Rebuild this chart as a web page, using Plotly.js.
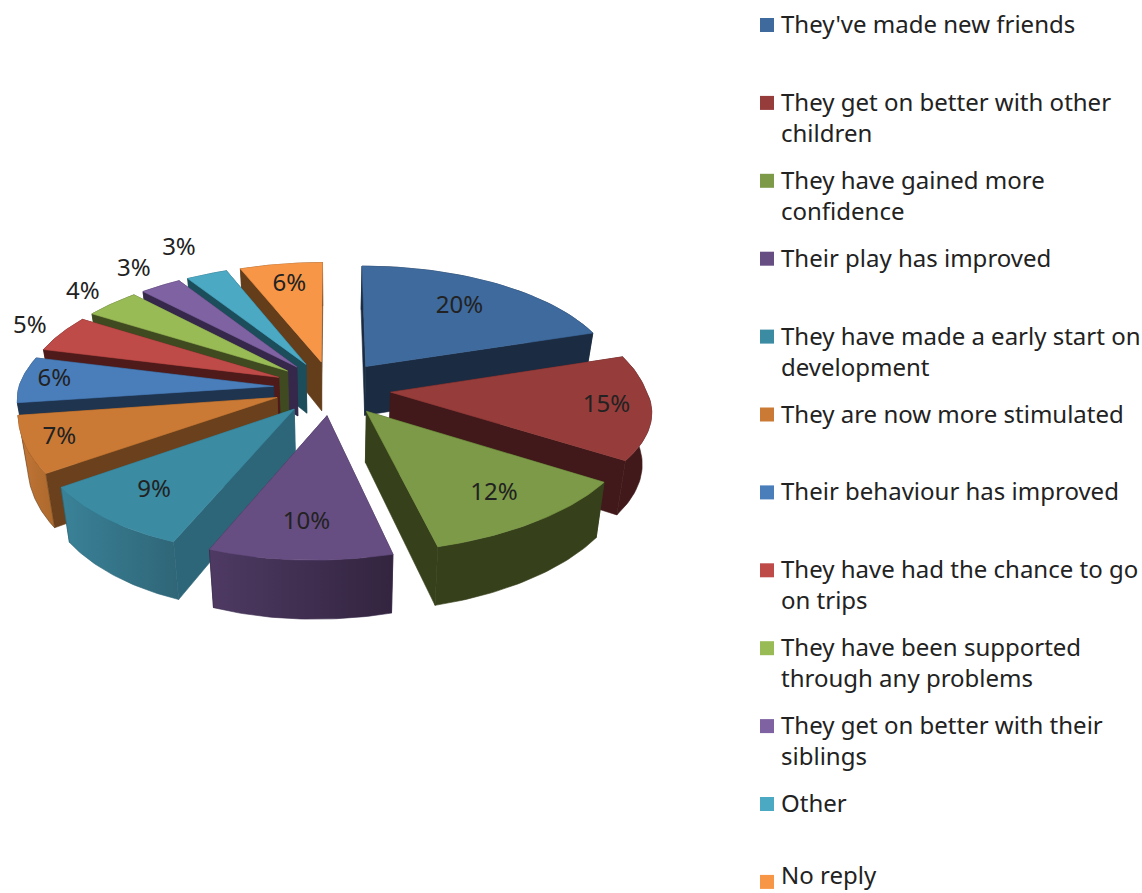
<!DOCTYPE html>
<html><head><meta charset="utf-8">
<script src="https://cdn.plot.ly/plotly-3.0.1.min.js"></script>
<style>html,body{margin:0;padding:0;background:#fff}#chart{width:1142px;height:893px}</style>
</head><body><div id="chart"></div>
<script>
const categories = ["They've made new friends","They get on better with other<br>children","They have gained more<br>confidence","Their play has improved","They have made a early start on<br>development","They are now more stimulated","Their behaviour has improved","They have had the chance to go<br>on trips","They have been supported<br>through any problems","They get on better with their<br>siblings","Other","No reply"];
const values = [20,15,12,10,9,7,6,5,4,3,3,6];
const topColors = ['#3E6A9D','#963C3A','#7C9A47','#674E82','#3B8BA3','#CB7A35','#4A7EBB','#BE4B48','#98BB56','#7F62A2','#4BA9C4','#F79646'];
const sideColors = ['#1B2B42','#41191A','#36401B','#3A2C4E','#2D6678','#6A411C','#1F344F','#4F1B1A','#3F4A20','#35284A','#1C4D5A','#643D1B'];
const wallLeft = ['#1B2B42','#41191A','#36401B','#4E3A63','#3A8298','#C27636','#1F344F','#4F1B1A','#3F4A20','#35284A','#1C4D5A','#643D1B'];
const wallRight = ['#1B2B42','#41191A','#36401B','#33243F','#2F6577','#AC682C','#1F344F','#4F1B1A','#3F4A20','#35284A','#1C4D5A','#643D1B'];
const labelRadius = [0.93,1.06,1.0,1.0,1.0,1.1,1.1,1.38,1.41,1.45,1.55,1.0];

const cx=332, cy=388, rx=255, ry=118, persp=0.125, explode=0.23, depth=50;
function proj(X,Y,z){
  const s=1/(1-persp*Y);
  const shrink=1-0.03*z;
  const front=Math.max(0,Y);
  return [cx+X*rx*s*shrink+11*front, cy+Y*ry*s+z*depth*s-11*X*front];
}
const total=values.reduce((a,b)=>a+b,0);
let cum=0;
const slices=values.map((v,i)=>{
  const a0=cum/total*2*Math.PI; cum+=v; const a1=cum/total*2*Math.PI; const mid=(a0+a1)/2;
  return {i,a0,a1,mid,ox:explode*Math.sin(mid),oy:-explode*Math.cos(mid)};
});
function rim(s,a){return [s.ox+Math.sin(a),s.oy-Math.cos(a)];}
function poly(pts,name,fill,grad){
  const x=pts.map(p=>p[0]),y=pts.map(p=>p[1]);x.push(x[0]);y.push(y[0]);
  const t={type:'scatter',mode:'lines',x,y,fill:'toself',fillcolor:fill,line:{width:0.6,color:fill},hoverinfo:'skip',showlegend:false,name};
  if(grad) t.fillgradient={type:'horizontal',colorscale:[[0,grad[0]],[1,grad[1]]]};
  return t;
}
function wallFace(p,q){const a=proj(p[0],p[1],0),b=proj(q[0],q[1],0),c=proj(q[0],q[1],1),d=proj(p[0],p[1],1);return [a,b,c,d];}
const traces=[];
const order=slices.slice().sort((a,b)=>(a.oy+ -Math.cos(a.mid)*0.5)-(b.oy+ -Math.cos(b.mid)*0.5));
order.forEach(s=>{
  const n=40, arc=[];
  for(let k=0;k<=n;k++) arc.push(rim(s,s.a0+(s.a1-s.a0)*k/n));
  const apex=[s.ox,s.oy];
  const faces=[
    {pts:wallFace(apex,arc[0]),y:arc[0][1]+apex[1],fill:sideColors[s.i]},
    {pts:wallFace(apex,arc[n]),y:arc[n][1]+apex[1],fill:sideColors[s.i]}
  ].sort((a,b)=>a.y-b.y);
  const outerTop=arc.map(p=>proj(p[0],p[1],0));
  const outerBot=arc.map(p=>proj(p[0],p[1],1)).reverse();
  const outer=poly(outerTop.concat(outerBot),'wall',sideColors[s.i],[wallLeft[s.i],wallRight[s.i]]);
  const outerFront=Math.cos(s.mid)<0;
  if(!outerFront) traces.push(outer);
  faces.forEach(f=>traces.push(poly(f.pts,'face',f.fill)));
  if(outerFront) traces.push(outer);
  const top=[proj(apex[0],apex[1],0)].concat(outerTop);
  traces.push(poly(top,categories[s.i],topColors[s.i]));
});
const lab=slices.map(s=>{
  const t=labelRadius[s.i];
  return proj(t*Math.sin(s.mid),-t*Math.cos(s.mid),0);
});
traces.push({type:'scatter',mode:'text',x:lab.map(p=>p[0]),y:lab.map(p=>p[1]),text:values.map(v=>v+'%'),textposition:'middle center',textfont:{family:'Noto Sans, sans-serif',size:24,color:'#222'},hoverinfo:'skip',showlegend:false});
const legendX=767, legendTop=25, legendStep=77.9, pageBottom=893, lineBox=36;
traces.push({type:'scatter',mode:'markers',x:categories.map(()=>legendX),y:categories.map((c,i)=>legendTop+i*legendStep),marker:{symbol:'square',size:14,color:topColors},hoverinfo:'skip',showlegend:false});
const annotations=categories.map((c,i)=>({xref:'x',yref:'y',x:780,y:Math.min(legendTop+i*legendStep-19,pageBottom-lineBox),xanchor:'left',yanchor:'top',align:'left',showarrow:false,borderpad:0,text:c,font:{family:'Noto Sans, sans-serif',size:24,color:'#222'}}));
Plotly.newPlot('chart',traces,{
  width:1142,height:893,margin:{l:0,r:0,t:0,b:0},paper_bgcolor:'#fff',plot_bgcolor:'#fff',showlegend:false,
  xaxis:{range:[0,1142],visible:false,fixedrange:true},
  yaxis:{range:[893,0],visible:false,fixedrange:true},
  annotations
},{displayModeBar:false,staticPlot:true});
</script></body></html>
